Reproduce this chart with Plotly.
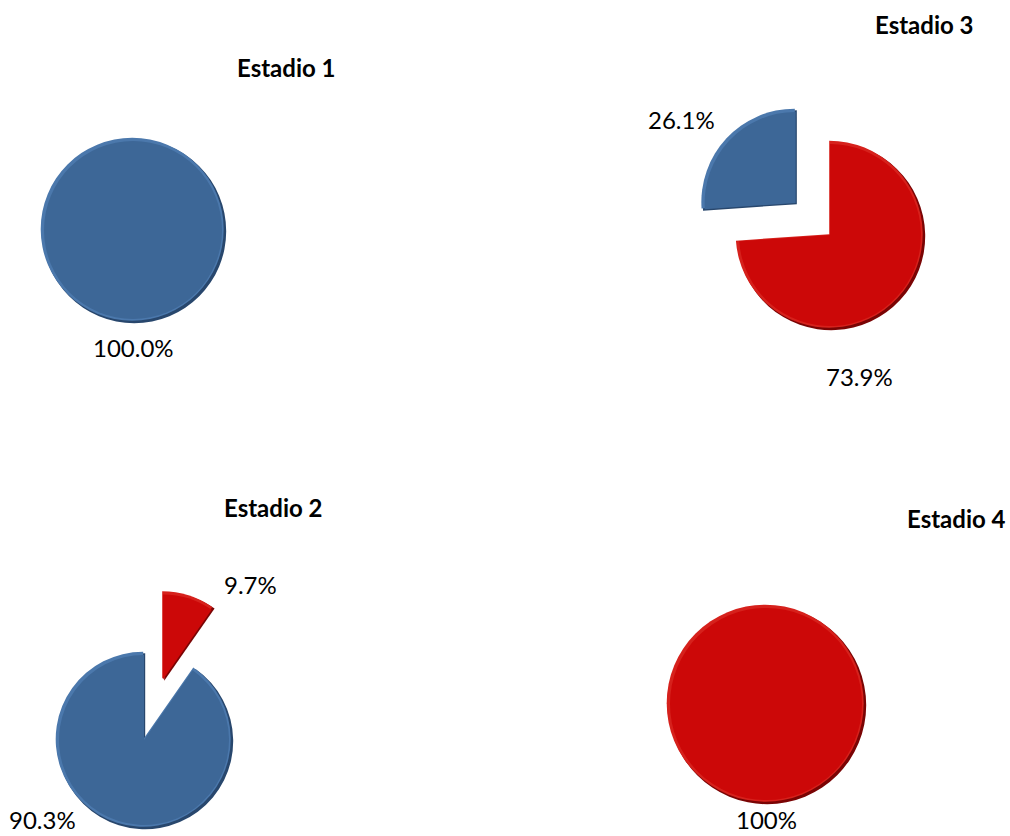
import math
import plotly.graph_objects as go

# --- data -------------------------------------------------------------
stages = ["Estadio 1", "Estadio 2", "Estadio 3", "Estadio 4"]
categories = ["Grupo A", "Grupo B"]          # slice order: red first, then blue
red_values = [0.0, 9.7, 73.9, 100.0]
blue_values = [100.0, 90.3, 26.1, 0.0]
label_decimals = [1, 1, 1, 0]

# --- styling / layout ---------------------------------------------------
W, H = 1010, 836
colors = ["#CC0808", "#3D6797"]
shade_colors = ["#7A0404", "#28476D"]    # lower-right bevel edge
light_colors = ["#D6211C", "#4B78AC"]    # upper-left bevel edge
FONT = "Lato"
FONT_SIZE = 24

# pie centre (px), radius (px), pull per slice (fraction of radius)
pie_center = [(133, 230), (144, 740), (830, 235), (766, 704)]
pie_radius = [92, 88, 94, 99]
pie_pull = [(0, 0), (0.72, 0), (0, 0.5), (0, 0)]

title_pos = [(286, 68), (273, 507), (924, 24), (956, 518)]
# value label positions per slice (red, blue)
label_pos = [(None, (133, 347)), ((250, 584), (42, 819)),
             ((859, 377), (681, 119)), ((766, 819), None)]


def px_to_paper(x, y):
    return x / W, 1 - y / H


def slice_trace(vals, k, color, cx, cy, r, name):
    """One pie trace in which only slice k is visible."""
    x0, y1 = px_to_paper(cx - r, cy - r)
    x1, y0 = px_to_paper(cx + r, cy + r)
    slice_colors = [color if j == k else "rgba(0,0,0,0)" for j in range(len(vals))]
    return go.Pie(
        labels=categories,
        values=vals,
        sort=False,
        direction="clockwise",
        rotation=0,
        textinfo="none",
        hoverinfo="label+percent",
        showlegend=False,
        marker=dict(colors=slice_colors, line=dict(width=0)),
        domain=dict(x=[x0, x1], y=[y0, y1]),
        name=name,
    )


fig = go.Figure()
annotations = []

for s, stage in enumerate(stages):
    vals = [red_values[s], blue_values[s]]
    total = sum(vals)
    cx, cy = pie_center[s]
    r = pie_radius[s]
    cum = 0.0
    for k, v in enumerate(vals):
        if v <= 0:
            cum += v
            continue
        mid = math.radians((cum + v / 2) / total * 360)
        cum += v
        pull = pie_pull[s][k]
        sx = cx + pull * r * math.sin(mid)
        sy = cy - pull * r * math.cos(mid)
        # bevel: dark rim offset down-right, light rim up-left, face on top
        fig.add_trace(slice_trace(vals, k, shade_colors[k], sx + 1.2, sy + 1.2, r, stage))
        fig.add_trace(slice_trace(vals, k, light_colors[k], sx - 0.8, sy - 0.8, r - 0.5, stage))
        fig.add_trace(slice_trace(vals, k, colors[k], sx, sy, r - 3, stage))
        pos = label_pos[s][k]
        if pos is not None:
            lx, ly = px_to_paper(*pos)
            annotations.append(dict(
                x=lx, y=ly, xref="paper", yref="paper",
                text=f"{v:.{label_decimals[s]}f}%",
                showarrow=False, xanchor="center", yanchor="middle",
                font=dict(family=FONT, size=FONT_SIZE, color="#000000"),
            ))
    tx, ty = px_to_paper(*title_pos[s])
    annotations.append(dict(
        x=tx, y=ty, xref="paper", yref="paper",
        text=f"<b>{stage}</b>", showarrow=False,
        xanchor="center", yanchor="middle",
        font=dict(family=FONT, size=FONT_SIZE, color="#000000"),
    ))

fig.update_layout(
    width=W, height=H,
    margin=dict(l=0, r=0, t=0, b=0),
    paper_bgcolor="white",
    plot_bgcolor="white",
    annotations=annotations,
)

fig.write_html("out.html")
